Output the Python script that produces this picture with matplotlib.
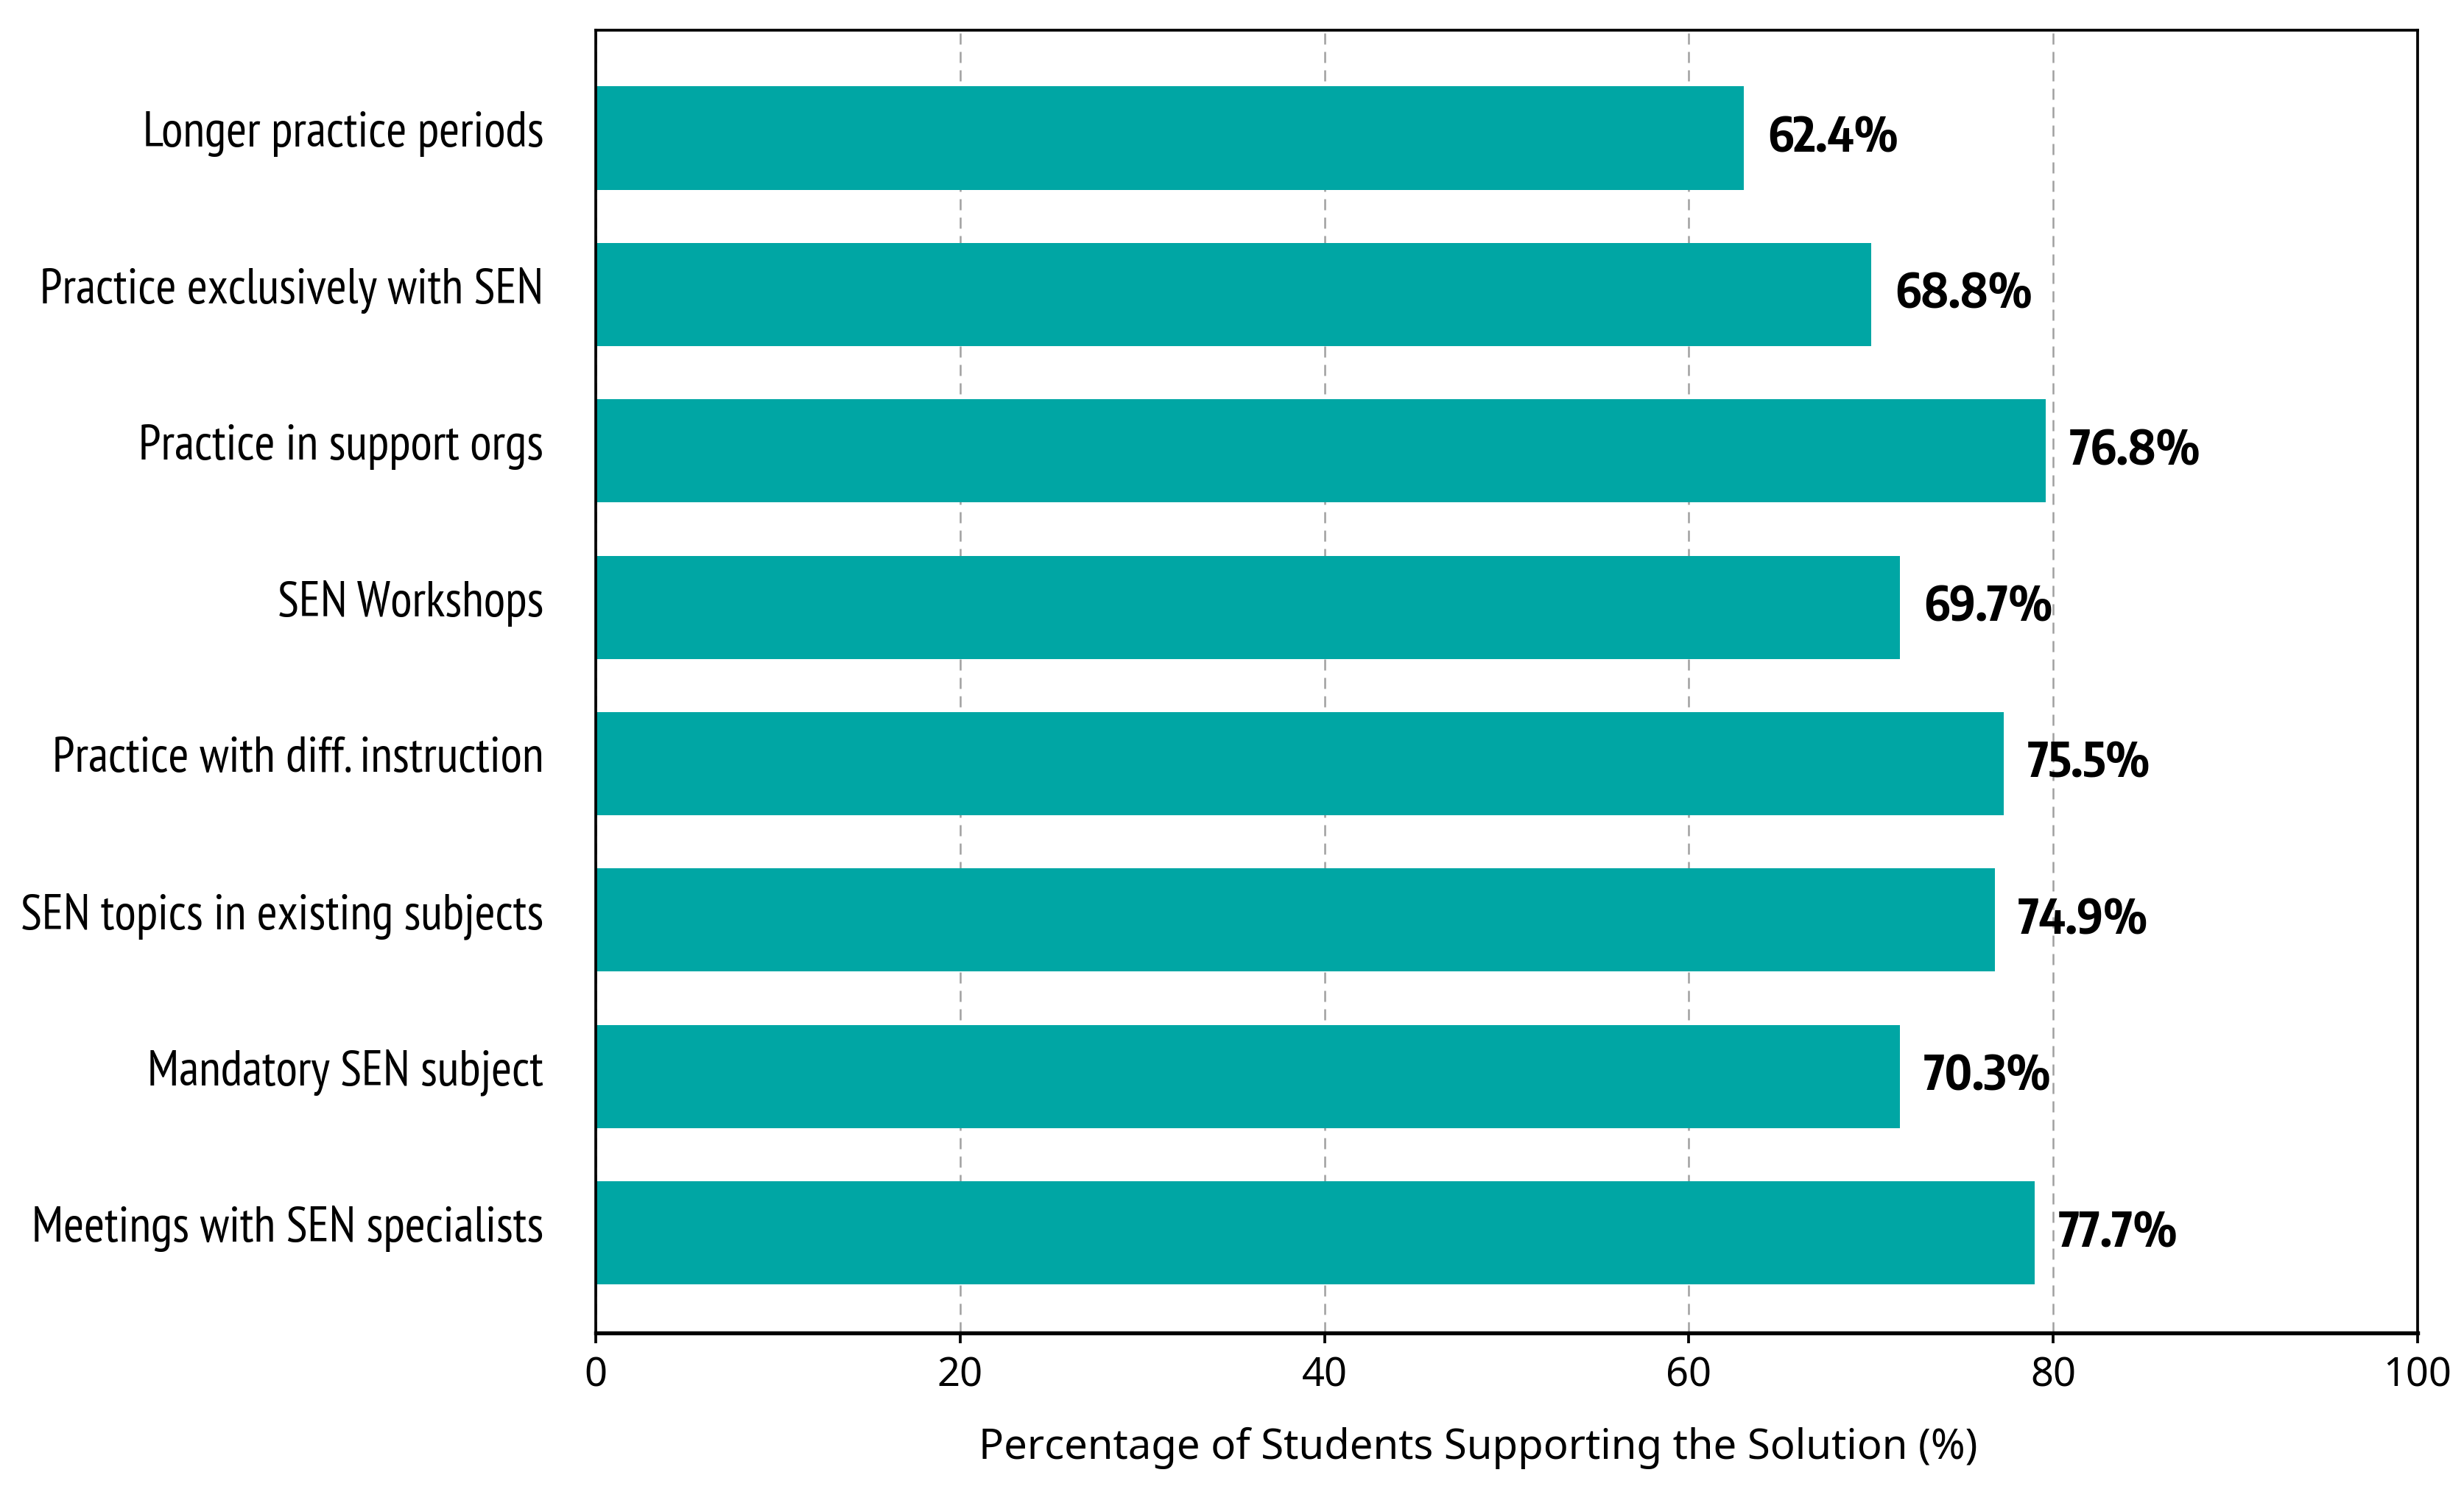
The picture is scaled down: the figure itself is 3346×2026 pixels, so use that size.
import numpy as np
import matplotlib
matplotlib.use('Agg')
import matplotlib.pyplot as plt
import matplotlib.transforms as mtransforms
from matplotlib.font_manager import FontProperties
from matplotlib.textpath import TextPath

# data (top bar first)
categories = ['Longer practice periods', 'Practice exclusively with SEN', 'Practice in support orgs',
              'SEN Workshops', 'Practice with diff. instruction', 'SEN topics in existing subjects',
              'Mandatory SEN subject', 'Meetings with SEN specialists']
bar_values = [63.0, 70.0, 79.6, 71.6, 77.3, 76.8, 71.6, 79.0]
value_labels = ['62.4%', '68.8%', '76.8%', '69.7%', '75.5%', '74.9%', '70.3%', '77.7%']
x_ticks = [0, 20, 40, 60, 80, 100]
x_label = 'Percentage of Students Supporting the Solution (%)'

W, H, DPI = 3346, 2026, 300
bar_color = '#00A6A4'


def pt_for(text, prop, px, use='height'):
    # font size (pt) so that the text's ink height/width is px pixels
    ext = TextPath((0, 0), text, size=100, prop=prop).get_extents()
    d = ext.height if use == 'height' else ext.width
    return px * 72.0 / DPI * 100.0 / d


label_font = FontProperties(family='PT Sans Narrow')
value_font = FontProperties(family='Encode Sans Condensed', weight='bold')
tick_font = FontProperties(family='Noto Sans')
xlab_font = FontProperties(family='Noto Sans')

label_font.set_size(pt_for('Practice exclusively with SEN', label_font, 675, 'width'))
value_font.set_size(pt_for('69', value_font, 49))
tick_font.set_size(13)
xlab_font.set_size(pt_for(x_label, xlab_font, 1351, 'width'))

fig = plt.figure(figsize=(W / DPI, H / DPI), dpi=DPI)
ax = fig.add_axes([809 / W, 1 - 1810 / H, (3283 - 809) / W, (1810 - 41) / H])

y = np.arange(len(categories))
ax.barh(y, bar_values, height=0.66, color=bar_color, zorder=2)

for i, (v, lbl) in enumerate(zip(bar_values, value_labels)):
    ax.text(v + 1.3, i, lbl, ha='left', va='center', fontproperties=value_font, color='black', zorder=3)

ax.set_xlim(0, 100)
ax.set_ylim(len(categories) - 1 + 0.64, -0.69)
ax.set_xticks(x_ticks)
ax.set_xticklabels([str(t) for t in x_ticks], fontproperties=tick_font)
ax.set_yticks(y)
ax.set_yticklabels(categories, fontproperties=label_font)

ax.tick_params(axis='y', length=0, pad=17)
ax.tick_params(axis='x', length=3.4, width=0.9, pad=4, color='black')

shift = mtransforms.ScaledTranslation(0, 3 / 72, fig.dpi_scale_trans)
for lab in ax.get_yticklabels():
    lab.set_transform(lab.get_transform() + shift)

ax.grid(axis='x', linestyle=(0, (6, 4)), linewidth=0.6, color='#a0a0a0')
ax.set_axisbelow(True)

for s in ax.spines.values():
    s.set_linewidth(0.9)
    s.set_color('black')
ax.spines['bottom'].set_linewidth(1.3)

ax.set_xlabel(x_label, fontproperties=xlab_font)
ax.xaxis.set_label_coords(0.4844, -0.0724)

fig.savefig('out.png', dpi=DPI, facecolor='white')
